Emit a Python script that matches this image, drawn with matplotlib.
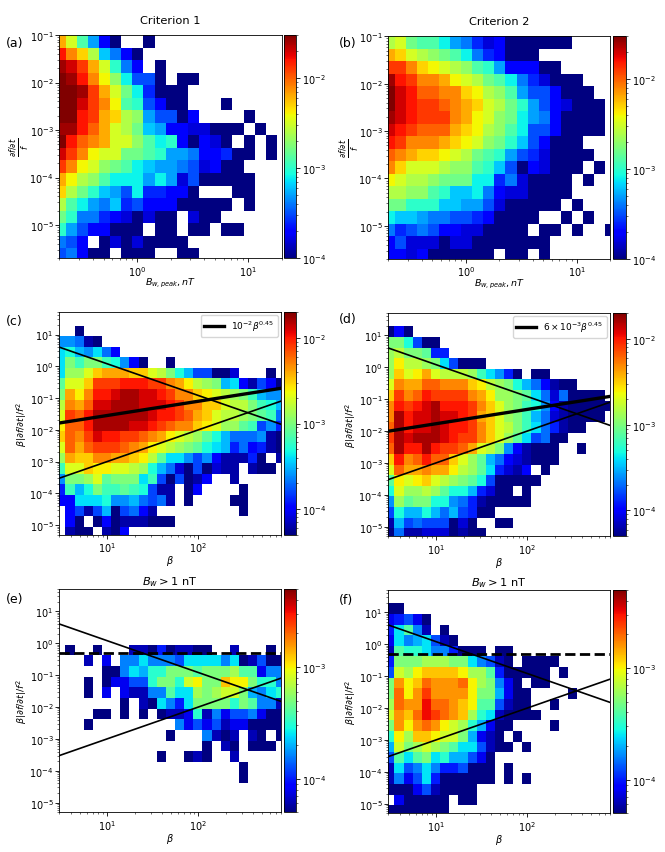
import numpy as np
import matplotlib
matplotlib.use("Agg")
import matplotlib.pyplot as plt
from matplotlib.colors import LogNorm

# Values: 10*log10(occurrence) per bin, rows from top to bottom, 0 = empty bin
panel_a = [
[-22,-25,-29,-33,-37,-40,0,0,-40],
[-18,-21,-23,-26,-32,-34,-37,-40],
[-16,-17,-19,-22,-25,-30,-34,-37,0,-40],
[-15,-16,-18,-21,-24,-27,-31,-35,-35,-40,0,-40,-40],
[-15,-15,-16,-19,-22,-25,-28,-31,-36,-40,-40,-40],
[-15,-15,-17,-19,-21,-24,-29,-30,-35,-37,-40,-40,0,0,0,-40],
[-15,-15,-18,-19,-22,-23,-26,-27,-33,-35,-35,-40,-37,0,0,0,0,-40],
[-16,-16,-18,-20,-22,-25,-26,-28,-32,-33,-37,-37,-38,-38,-40,-40,-40,0,-40],
[-15,-18,-20,-21,-22,-25,-25,-27,-29,-31,-30,-37,-40,-37,-38,-40,0,-40,0,-40],
[-17,-19,-21,-24,-25,-25,-28,-28,-29,-30,-33,-33,-34,-37,-37,-36,-40,-40,0,-40],
[-19,-21,-24,-25,-27,-28,-29,-31,-32,-33,-33,-34,-35,-38,-37,-40,-40],
[-22,-24,-26,-27,-29,-31,-31,-31,-33,-31,-33,-38,-35,-40,-40,-40,-40,-40],
[-23,-26,-28,-30,-32,-33,-35,-31,-36,-36,-37,-37,-40,0,0,0,-40,-40],
[-26,-29,-31,-33,-34,-32,-36,-35,-37,-37,-37,-40,-40,-40,-40,-40,0,-40],
[-28,-30,-34,-34,-36,-37,-38,-40,-38,-40,-40,0,-38,-40,-40],
[-30,-33,-35,-37,-37,-40,-40,-40,0,-40,-40,0,-40,-40,0,-40,-40],
[-34,-35,-37,0,-40,-38,-40,-38,-40,-40,-40,-40],
[-35,-34,-37,-40,-40,0,-40,-40,-40,0,0,-40,-40],
]
panel_b = [
[-26,-25,-28,-29,-29,-31,-33,-34,-36,-38,-37,-40,-40,-40,-40,-40,-40],
[-22,-23,-25,-26,-27,-28,-29,-31,-34,-36,-37,-40,-40,-40],
[-19,-19,-21,-23,-24,-25,-26,-27,-29,-30,-33,-37,-37,-37,-40,-40],
[-16,-18,-19,-21,-21,-22,-24,-25,-26,-28,-29,-31,-34,-36,-38,-40,-40,-40],
[-15,-17,-18,-20,-20,-21,-21,-23,-24,-26,-27,-29,-33,-35,-35,-37,-40,-40,-40],
[-15,-17,-18,-19,-19,-20,-21,-22,-23,-25,-26,-28,-30,-33,-35,-37,-38,-40,-40,-40],
[-16,-17,-18,-19,-19,-19,-21,-22,-24,-25,-27,-28,-31,-33,-34,-37,-40,-40,-40,-40],
[-17,-18,-19,-20,-20,-20,-22,-23,-24,-26,-27,-29,-31,-35,-35,-37,-40,-40,-40,-40],
[-18,-19,-21,-21,-21,-22,-23,-24,-25,-27,-28,-30,-32,-35,-37,-40,-40,-40],
[-20,-21,-22,-23,-23,-24,-25,-26,-28,-29,-30,-33,-35,-36,-38,-40,-40,-40,-40],
[-21,-23,-25,-25,-25,-26,-27,-27,-29,-30,-32,-35,-40,-37,-38,-40,-40,-40,0,-40],
[-24,-25,-26,-26,-27,-28,-28,-28,-31,-31,-36,-34,-38,-40,-40,-40,-40,0,-40],
[-26,-26,-27,-27,-29,-30,-32,-32,-31,-34,-37,-38,-38,-40,-40,-40,-40],
[-28,-28,-30,-30,-30,-32,-32,-33,-33,-35,-38,-40,-40,-40,-40,-40,0,-40],
[-31,-32,-32,-33,-34,-34,-35,-35,-36,-37,-40,-40,-40,-40,0,0,-40,0,-40],
[-34,-36,-35,-34,-35,-37,-37,-38,-38,-40,-40,-40,-40,0,-40,-40,0,-40,0,0,-40],
[-37,-35,-38,-38,-38,-40,-38,-38,-40,-40,-40,-40,-40,-40,-40],
[-37,-37,-38,-37,-40,-40,-40,-40,-40,-40,0,-40,-40,0,-40],
]
panel_c = [
[0,0,-43],
[-36,-36,-37,-42,-43],
[-34,-33,-35,-36,-34,-37,-40],
[-34,-30,-32,-30,-30,-32,-33,-36,-40,-43,0,0,-43],
[-34,-29,-29,-27,-25,-24,-24,-24,-25,-25,-27,-28,-30,-33,-35,-38,-38,-43,-43,-41,0,0,0,-43],
[-31,-27,-27,-25,-21,-21,-21,-20,-20,-20,-21,-21,-23,-24,-26,-28,-29,-30,-35,-34,-40,-42,-38,-40,-43],
[-30,-24,-26,-23,-20,-20,-19,-18,-18,-19,-19,-20,-21,-23,-23,-25,-26,-27,-28,-29,-30,-32,-35,-36,-36],
[-28,-23,-24,-22,-19,-19,-18,-18,-18,-19,-19,-19,-20,-21,-23,-23,-25,-25,-27,-28,-28,-30,-32,-33,-35],
[-27,-21,-22,-20,-18,-18,-18,-18,-18,-18,-19,-20,-20,-21,-22,-24,-25,-27,-28,-28,-29,-30,-31,-32,-37],
[-26,-22,-22,-20,-18,-18,-18,-18,-19,-19,-20,-21,-22,-23,-23,-25,-26,-27,-29,-29,-31,-32,-38,-36,-39],
[-25,-22,-23,-21,-19,-20,-20,-21,-21,-22,-23,-24,-26,-27,-28,-29,-31,-33,-35,-37,-37,-37,-36,-42,-43],
[-27,-22,-24,-22,-21,-21,-21,-22,-23,-24,-26,-27,-28,-29,-30,-31,-33,-34,-35,-39,-37,-40,-39,-42,-43],
[-29,-24,-25,-25,-23,-23,-24,-24,-25,-26,-28,-31,-34,-34,-36,-38,-36,-40,-42,-42,-42,-39,-43,0,-42],
[-32,-27,-27,-25,-26,-26,-27,-27,-28,-29,-33,-35,-37,-41,-43,-38,-43,-41,-42,-42,0,-42,-43,-43],
[-36,-30,-30,-29,-27,-31,-30,-30,-30,-34,-32,-38,-43,-38,-43,-42,-40,0,0,-42],
[-39,-32,-35,-33,-30,-32,-32,-31,-32,-33,-38,-42,-42,0,-43,-40,0,0,0,0,-43],
[-40,-40,-34,-34,-34,-33,-36,-36,-35,-37,-38,-37,-42,0,-43,0,0,0,0,-43,-43],
[0,-40,-38,-42,-38,-35,-43,-38,-37,-40,-42,0,0,0,0,0,0,0,0,0,-43],
[0,-40,-43,0,-43,-40,-43,-42,-42,-42,-43,-43,-43],
[0,-42,-43,-43,0,-42,-43,-40],
]
panel_d = [
[-43,-40,-43],
[-30,-30,-33,-38,-43,-43],
[-29,-28,-30,-30,-31,-39,-39],
[-29,-26,-28,-28,-29,-30,-34,-38,-43,-43,-43],
[-29,-25,-27,-26,-24,-27,-28,-28,-28,-29,-32,-34,-36,-39,-43,0,-43,-43],
[-27,-23,-24,-24,-22,-22,-23,-23,-23,-25,-26,-28,-29,-30,-33,-35,-37,-40,-42,-43,-43],
[-25,-21,-23,-22,-20,-21,-21,-21,-21,-23,-24,-26,-29,-29,-30,-31,-34,-37,-41,-37,-43,-43,-43,-43],
[-23,-20,-21,-20,-19,-18,-20,-20,-20,-21,-23,-25,-27,-29,-30,-32,-33,-36,-40,-42,-43,-43,-43,-43,-43],
[-23,-18,-20,-19,-19,-18,-19,-19,-20,-21,-24,-25,-27,-29,-30,-32,-35,-37,-41,-42,-43,-43,-43,-43],
[-22,-18,-20,-19,-19,-18,-19,-20,-20,-21,-23,-25,-27,-28,-30,-32,-34,-37,-39,-42,-43,-43],
[-21,-18,-19,-18,-18,-18,-19,-20,-21,-21,-23,-25,-27,-29,-31,-34,-38,-37,-43,-43],
[-22,-18,-20,-20,-18,-20,-21,-21,-22,-24,-27,-28,-30,-36,-40,-42,-43,-43,-43,0,0,-43],
[-25,-20,-23,-22,-20,-22,-22,-25,-27,-29,-31,-35,-37,-40,-41,-42,-43,-43,-43],
[-27,-22,-24,-24,-23,-24,-24,-26,-28,-29,-31,-34,-39,-41,-42,-40,0,-43],
[-31,-26,-27,-26,-25,-27,-28,-29,-30,-31,-33,-38,-43,-43,-43,-43,-43],
[-33,-27,-29,-29,-28,-29,-31,-33,-33,-35,-39,-41,-43,-43,0,-43],
[-36,-29,-31,-30,-30,-33,-33,-36,-37,-39,-42,-43,-43,-43,-43,-43],
[-38,-33,-35,-35,-33,-35,-37,-35,-38,-39,-43,-43],
[-42,-35,-38,-37,-38,-38,-38,-43,-41,-43,0,0,-43,-43],
[-43,-37,-42,-42,-41,-41,-41,-43,-42,-43,-43],
]
panel_e = [
[],
[],
[],
[],
[0,-43,0,0,-43,0,0,0,-42,-42,-43,-40,-43,-42,-42,-43,-43,0,0,-42,0,0,0,-43],
[0,0,0,-42,0,-41,0,-38,-38,-36,-38,-38,-38,-39,-36,-36,-36,-36,-38,-36,-43,-42,-39,-43,-43],
[0,0,0,0,0,-43,-43,-38,-36,-37,-35,-35,-33,-33,-33,-34,-33,-33,-33,-32,-34,-34,-41,-38,-38],
[0,0,0,-43,0,-43,-41,-41,-39,-39,-35,-33,-33,-35,-31,-30,-33,-33,-29,-30,-30,-33,-35,-35,-38],
[0,0,0,-43,0,-41,0,-41,-42,-42,-38,-38,-34,-36,-36,-32,-33,-32,-31,-31,-33,-37,-38,-36,-35],
[0,0,0,0,0,0,0,-43,0,-42,-43,-36,-38,-40,-36,-33,-33,-33,-33,-35,-33,-34,-38,-38,-42],
[0,0,0,0,-43,-43,0,-43,0,-43,0,-43,-42,-42,-41,-35,-42,-38,-41,-39,-39,-38,-41,-43,-43],
[0,0,0,-43,0,0,0,0,0,0,0,0,0,-38,-41,-39,-41,-39,-42,-41,-41,-43,-43,-43,-43],
[0,0,0,0,0,0,0,0,0,0,0,0,-43,0,0,0,-38,-42,-43,-42,0,-42,-43,0,-43],
[0,0,0,0,0,0,0,0,0,0,0,0,0,0,0,0,-43,0,-42,-43,0,-43,-43,-43],
[0,0,0,0,0,0,0,0,0,0,0,-43,0,0,-43,-42,-43,0,0,-42],
[0,0,0,0,0,0,0,0,0,0,0,0,0,0,0,0,0,0,0,0,-43],
[0,0,0,0,0,0,0,0,0,0,0,0,0,0,0,0,0,0,0,0,-43],
[],
[],
[],
]
panel_f = [
[-43,-43],
[-41,-40,-39,-41,-43],
[-40,-36,-34,-38,-42,0,-43],
[-41,-36,-38,-37,-36,-39,-42,-43],
[-42,-34,-35,-35,-36,-38,-38,-40,-43,-43,-43,0,-43,-43],
[-40,-33,-33,-33,-32,-32,-32,-33,-33,-36,-38,-39,-42,-43,0,-43,-43,-43,-43],
[-39,-31,-32,-30,-29,-29,-29,-29,-30,-32,-32,-34,-40,-43,-43,-43,-43,-43,0,-43],
[-33,-28,-30,-29,-27,-28,-28,-28,-27,-30,-32,-33,-38,-41,-43,0,-43,-43],
[-33,-27,-30,-28,-26,-28,-28,-28,-28,-30,-33,-33,-37,-41,-43,-43,0,0,0,0,-43],
[-32,-27,-28,-28,-25,-27,-27,-28,-29,-30,-34,-34,-39,-42,-43,-43,0,0,-43],
[-31,-28,-29,-27,-25,-26,-27,-28,-29,-32,-35,-36,-42,-43,-43,-43,-43],
[-33,-28,-30,-28,-27,-28,-30,-31,-32,-35,-37,-41,-43,-43,0,0,0,0,-43],
[-35,-30,-32,-29,-29,-30,-31,-31,-33,-37,-41,-42,-43,0,-43],
[-37,-31,-33,-32,-31,-32,-33,-34,-36,-36,-39,-42,-43,-43,0,-43],
[-39,-34,-36,-34,-33,-36,-35,-37,-37,-39,-41,-43],
[-42,-36,-39,-38,-36,-38,-40,-40,-39,-43,-43,-43,0,-43],
[-42,-38,-41,-39,-36,-40,-43,-43,-43,-43,-43,-43,0,-43,0,-43],
[-43,-43,-43,-41,-39,-42,-43,-43,-43,-43],
[0,-41,-43,-43,-43,-43,-43,0,-43,-43],
[-43,-43,-43,-43,-43,-43,-43],
]

top_titles = ["Criterion 1", "Criterion 2", "", "", r"$B_w > 1$ nT", r"$B_w > 1$ nT"]
panel_labels = ["(a)", "(b)", "(c)", "(d)", "(e)", "(f)"]
legend_labels = [None, None, r"$10^{-2}\beta^{0.45}$", r"$6\times10^{-3}\beta^{0.45}$", None, None]
fit_coeff = [None, None, 1e-2, 6e-3, None, None]
fit_slope = 0.45
upper_bound_coeff = 12.0
lower_bound_coeff = 1e-4
dashed_level = 0.5
xticks_top = [1, 10]
yticks_top = [1e-5, 1e-4, 1e-3, 1e-2, 1e-1]
xticks_beta = [10, 100]
yticks_beta = [1e-5, 1e-4, 1e-3, 1e-2, 1e-1, 1, 10]

W, H = 665, 853
fig = plt.figure(figsize=(W / 100, H / 100), dpi=100)

def make_ax(x0, x1, y0, y1):
    return fig.add_axes([x0 / W, 1 - y1 / H, (x1 - x0) / W, (y1 - y0) / H])

boxes = [
    (59.3, 281.7, 36.0, 259.3, 283.7, 296.0),
    (388.3, 610.0, 37.3, 260.0, 613.0, 625.7),
    (59.3, 281.0, 313.3, 535.7, 283.5, 296.0),
    (388.3, 610.0, 314.0, 537.3, 613.0, 625.7),
    (59.3, 281.0, 590.0, 813.3, 283.5, 296.0),
    (388.3, 610.0, 591.0, 814.3, 613.0, 625.7),
]
label_pos = [(6, 43), (339, 44), (6, 321), (339, 320), (6, 600), (339, 601)]

x_top = 10 ** np.linspace(-0.742, 1.358, 22)
y_top = 10 ** (-1 - 0.264 * np.arange(19))
x_beta = 10 ** (0.444 + 0.1 * np.arange(26))
y_beta = 10 ** (1.283 - np.arange(21) / 3)
beta_line = np.array([3.0, 800.0])

def to_grid(rows, ncol):
    g = np.zeros((len(rows), ncol))
    for i, r in enumerate(rows):
        g[i, :len(r)] = r
    return np.ma.masked_where(g == 0, 10 ** (g / 10.0))

panels = [panel_a, panel_b, panel_c, panel_d, panel_e, panel_f]
ranges = [(1e-4, 3e-2), (1e-4, 3e-2), (5e-5, 2e-2), (5e-5, 2e-2), (5e-5, 5e-3), (5e-5, 5e-3)]
TICK = 7.0
for i, rows in enumerate(panels):
    x0, x1, y0, y1, c0, c1 = boxes[i]
    ax = make_ax(x0, x1, y0, y1)
    cax = make_ax(c0, c1, y0, y1)
    norm = LogNorm(*ranges[i])
    if i < 2:
        xe, ye, nc = x_top, y_top, 21
    else:
        xe, ye, nc = x_beta, y_beta, 25
    m = ax.pcolormesh(xe, ye, to_grid(rows, nc), cmap="jet", norm=norm)
    ax.set_xscale("log")
    ax.set_yscale("log")
    if i < 2:
        ax.set_xticks(xticks_top)
        ax.set_yticks(yticks_top)
        ax.set_xlim(0.2, 20)
        ax.set_ylim(2e-6, 1e-1)
        ax.set_xlabel(r"$B_{w,peak}, nT$", fontsize=6.8)
        ax.set_ylabel(r"$\frac{\partial f/\partial t}{f}$", fontsize=8.5)
        ax.yaxis.set_label_coords(-0.125, 0.5)
        ax.xaxis.set_label_coords(0.5, -0.08)
    else:
        ax.set_xticks(xticks_beta)
        ax.set_yticks(yticks_beta)
        ax.set_xlim(3, 800)
        ax.set_ylim(5e-6, 50)
        ax.set_xlabel(r"$\beta$", fontsize=7)
        ax.set_ylabel(r"$\beta|\partial f/\partial t|/f^2$", fontsize=6.8)
        ax.yaxis.set_label_coords(-0.135, 0.5)
        ax.xaxis.set_label_coords(0.5, -0.083)
        ax.plot(beta_line, upper_bound_coeff / beta_line, color="k", lw=1.2)
        ax.plot(beta_line, lower_bound_coeff * beta_line, color="k", lw=1.2)
        if fit_coeff[i] is not None:
            ax.plot(beta_line, fit_coeff[i] * beta_line ** fit_slope, color="k", lw=2.4,
                    label=legend_labels[i])
            ax.legend(loc="upper right", fontsize=6.5, handlelength=2.2, borderaxespad=0.35)
        else:
            ax.plot(beta_line, [dashed_level, dashed_level], color="k", lw=2, ls="--")
    ax.tick_params(which="major", labelsize=TICK, length=2.6, width=0.6, pad=1.5)
    ax.tick_params(which="minor", length=1.5, width=0.4)
    for s in ax.spines.values():
        s.set_linewidth(0.6)
    if top_titles[i]:
        ax.set_title(top_titles[i], fontsize=8.2, pad=9 if i < 2 else 3.5)
    cb = fig.colorbar(m, cax=cax)
    cb.ax.tick_params(which="major", labelsize=TICK, length=2.6, width=0.6, pad=2)
    cb.ax.tick_params(which="minor", length=1.5, width=0.4)
    cb.outline.set_linewidth(0.6)
    lx, ly = label_pos[i]
    fig.text(lx / W, 1 - ly / H, panel_labels[i], fontsize=9, va="center", ha="left")

fig.savefig("out.png", dpi=100)
